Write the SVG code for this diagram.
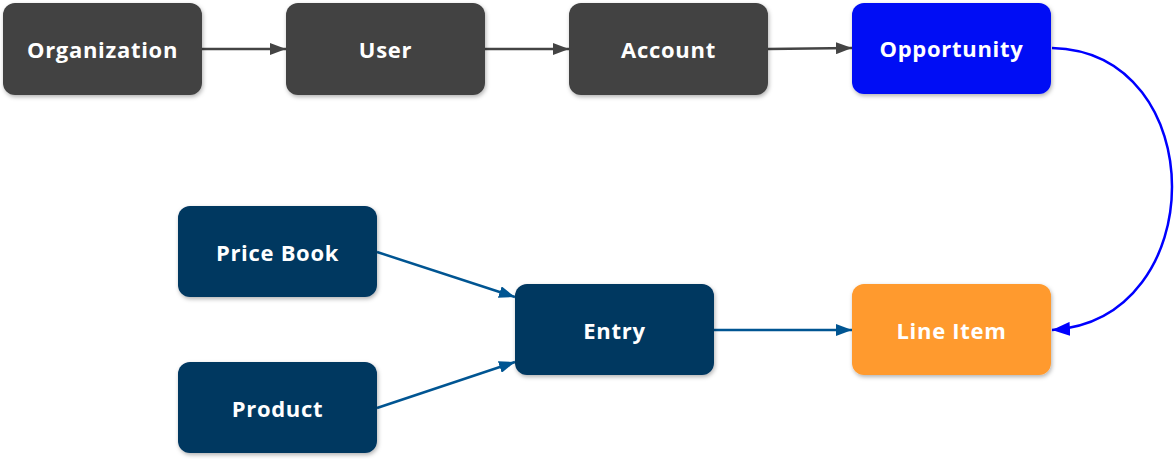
<svg xmlns="http://www.w3.org/2000/svg" width="1176" height="459" viewBox="0 0 1176 459">
<defs>
<filter id="sh" x="-10%" y="-10%" width="120%" height="130%"><feDropShadow dx="1" dy="2" stdDeviation="2" flood-color="#000" flood-opacity="0.3"/></filter>
<marker id="ag" viewBox="0 0 16 12" markerWidth="16" markerHeight="12" refX="16" refY="6" orient="auto" markerUnits="userSpaceOnUse"><path d="M0,0 L16,6 L0,12 z" fill="#444444"/></marker>
<marker id="ab" viewBox="0 0 16 12" markerWidth="16" markerHeight="12" refX="16" refY="6" orient="auto" markerUnits="userSpaceOnUse"><path d="M0,0 L16,6 L0,12 z" fill="#005592"/></marker>
<marker id="au" viewBox="0 0 18 14" markerWidth="18" markerHeight="14" refX="18" refY="7" orient="auto" markerUnits="userSpaceOnUse"><path d="M0,0 L18,7 L0,14 z" fill="#0000ff"/></marker>
</defs>
<style>
.n rect{filter:url(#sh)}
.t{font-family:"Open Sans","Noto Sans",sans-serif;font-weight:bold;font-size:22px;letter-spacing:0.7px;fill:#ffffff;text-anchor:middle;dominant-baseline:central}
.g{fill:#434343}
.nv{fill:#003761}
.c{fill:none;stroke-width:2.5}
</style>
<g id="connectors">
<path class="c" d="M202,49 L286,49" stroke="#444444" marker-end="url(#ag)"/>
<path class="c" d="M485,49 L569,49" stroke="#444444" marker-end="url(#ag)"/>
<path class="c" d="M768,49 L852,48" stroke="#444444" marker-end="url(#ag)"/>
<path class="c" d="M1052,48 C1212,52 1212,320 1052,330" stroke="#0000ff" marker-end="url(#au)"/>
<path class="c" d="M377,252 L515,297" stroke="#005592" marker-end="url(#ab)"/>
<path class="c" d="M377,408 L515,362" stroke="#005592" marker-end="url(#ab)"/>
<path class="c" d="M714,330 L852,330" stroke="#005592" marker-end="url(#ab)"/>
</g>
<g id="organization" class="n"><rect class="g" x="3" y="3" width="199" height="92" rx="12"/><text class="t" x="102.5" y="49">Organization</text></g>
<g id="user" class="n"><rect class="g" x="286" y="3" width="199" height="92" rx="12"/><text class="t" x="385.5" y="49">User</text></g>
<g id="account" class="n"><rect class="g" x="569" y="3" width="199" height="92" rx="12"/><text class="t" x="668.5" y="49">Account</text></g>
<g id="opportunity" class="n"><rect x="852" y="3" width="199" height="91" rx="12" fill="#0010f5"/><text class="t" x="951.5" y="48">Opportunity</text></g>
<g id="pricebook" class="n"><rect class="nv" x="178" y="206" width="199" height="91" rx="12"/><text class="t" x="277.5" y="252">Price Book</text></g>
<g id="product" class="n"><rect class="nv" x="178" y="362" width="199" height="91" rx="12"/><text class="t" x="277.5" y="408">Product</text></g>
<g id="entry" class="n"><rect class="nv" x="515" y="284" width="199" height="91" rx="12"/><text class="t" x="614.5" y="330">Entry</text></g>
<g id="lineitem" class="n"><rect x="852" y="284" width="199" height="91" rx="12" fill="#ff9a2e"/><text class="t" x="951.5" y="330">Line Item</text></g>
</svg>
